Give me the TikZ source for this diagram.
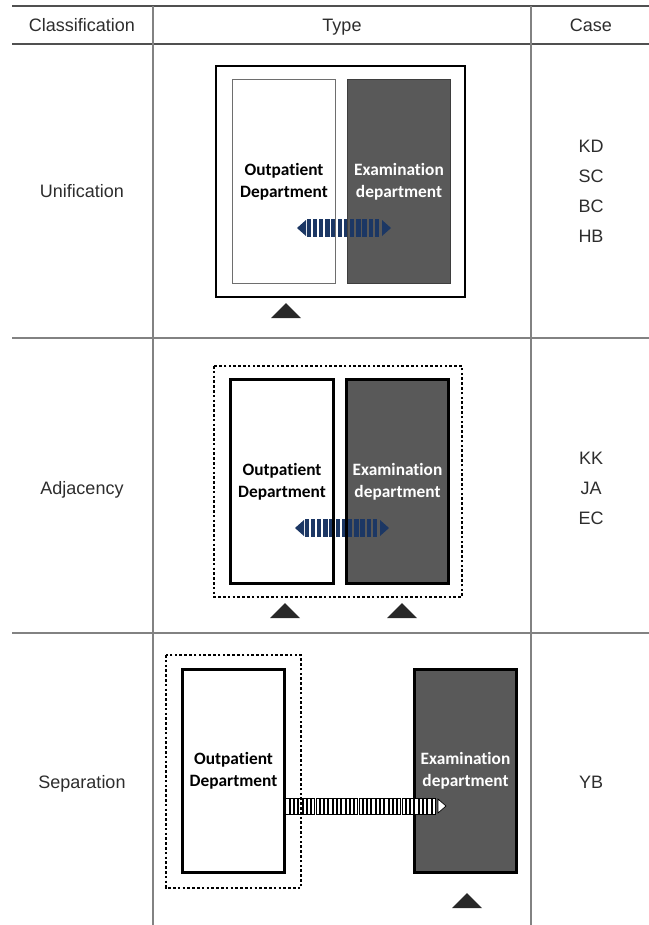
\documentclass[tikz,border=0pt]{standalone}
\usepackage{fontspec}
\setmainfont{Liberation Sans}
\newfontfamily\deptfont{Carlito}[Ligatures=NoCommon]
\usepackage{xcolor}
\usetikzlibrary{positioning, calc}
\definecolor{cRule}{RGB}{130,130,130}
\definecolor{cRuleDk}{RGB}{80,80,80}
\definecolor{cText}{RGB}{45,45,45}
\definecolor{cExam}{RGB}{89,89,89}
\definecolor{cFlow}{RGB}{28,55,100}
\definecolor{cMark}{RGB}{40,40,40}
\definecolor{cThin}{RGB}{110,110,110}

\begin{document}
\begin{tikzpicture}[x=0.75pt, y=-0.75pt]

% ------------------- styles -------------------
\tikzstyle{rule} = [draw=cRule, line width=0.8pt]
\tikzstyle{headrule} = [draw=cRuleDk, line width=1pt]
\tikzstyle{label} = [text=cText, align=center, inner sep=0, font=\fontsize{13.5}{22.5}\selectfont]
\tikzstyle{dept} = [rectangle, align=center, inner sep=0, minimum width=76.5pt, minimum height=152.25pt, font=\deptfont\bfseries\fontsize{13}{16.5}\selectfont]
\tikzstyle{opd} = [dept, fill=white]
\tikzstyle{exam} = [dept, fill=cExam, text=white]
\tikzstyle{thinborder} = [draw=cThin, line width=0.7pt]
\tikzstyle{thickborder} = [draw=black, line width=2.2pt]
\tikzstyle{zone} = [draw=black, line width=1.1pt, dash pattern=on 2pt off 1.6pt]
\tikzstyle{marker} = [fill=cMark]

\useasboundingbox (0,0) rectangle (649,925);

% ------------------- table -------------------
\draw[headrule] (12,6) -- (649,6);
\draw[headrule] (12,44) -- (649,44);
\draw[rule] (12,338) -- (649,338);
\draw[rule] (12,633) -- (649,633);
\draw[rule] (153,6) -- (153,925);
\draw[rule] (531,6) -- (531,925);

\node[label, anchor=base] (hClass) at (82,31) {Classification};
\node[label, anchor=base] (hType) at (342,31) {Type};
\node[label, anchor=base] (hCase) at (591,31) {Case};

\node[label, anchor=base] (cUni) at (82,197) {Unification};
\node[label, anchor=base] (cAdj) at (82,494) {Adjacency};
\node[label, anchor=base] (cSep) at (82,788) {Separation};

\node[label] (kUni) at (591,191.5) {KD\\SC\\BC\\HB};
\node[label] (kAdj) at (591,488) {KK\\JA\\EC};
\node[label] (kSep) at (591,782) {YB};

% ------------------- unification -------------------
\draw[line width=2.2pt] (216,66) rectangle (465,297);
\node[opd] (opdU) at (284,181.5) {Outpatient\\Department};
\node[exam] (examU) at (399,181.5) {Examination\\department};

\coordinate (flowU1) at (297,228);
\coordinate (flowU2) at (391,228);
\fill[cFlow] (flowU1) -- ++(9,-8) -- ++(0,16) -- cycle;
\foreach \i in {0,...,11} \fill[cFlow] ($(flowU1)+(9.5+\i*6.2,-9)$) rectangle ++(4.5,18);
\fill[cFlow] (flowU2) -- ++(-9,-8) -- ++(0,16) -- cycle;

\draw[thinborder] (opdU.north west) rectangle (opdU.south east);
\draw[cExam!70!black, line width=0.7pt] (examU.north west) rectangle (examU.south east);

\fill[marker] (286,303) -- (301,318) -- (271,318) -- cycle;

% ------------------- adjacency -------------------
\draw[zone] (214,366) rectangle (462,597);
\node[opd] (opdA) at (282,481.5) {Outpatient\\Department};
\node[exam] (examA) at (397.5,481.5) {Examination\\department};

\coordinate (flowA1) at (295,528);
\coordinate (flowA2) at (389,528);
\fill[cFlow] (flowA1) -- ++(9,-8) -- ++(0,16) -- cycle;
\foreach \i in {0,...,11} \fill[cFlow] ($(flowA1)+(9.5+\i*6.2,-9)$) rectangle ++(4.5,18);
\fill[cFlow] (flowA2) -- ++(-9,-8) -- ++(0,16) -- cycle;

\draw[thickborder] (opdA.north west) rectangle (opdA.south east);
\draw[thickborder] (examA.north west) rectangle (examA.south east);

\fill[marker] (285,603) -- (300,618) -- (270,618) -- cycle;
\fill[marker] (402,603) -- (417,618) -- (387,618) -- cycle;

% ------------------- separation -------------------
\node[opd] (opdS) at (233.5,771) {Outpatient\\Department};
\node[exam] (examS) at (465.5,771) {Examination\\department};
\draw[thickborder] (opdS.north west) rectangle (opdS.south east);
\draw[thickborder] (examS.north west) rectangle (examS.south east);

\coordinate (flowS1) at (opdS.east |- 0,806);
\coordinate (flowS2) at (446,806);
\foreach \i in {0,...,34} \draw[fill=white, line width=0.5pt] ($(flowS1)+(1+\i*4.3,-8)$) rectangle ++(3.2,16);
\draw[fill=white, line width=0.5pt] (flowS2) -- ++(-8,-7) -- ++(0,14) -- cycle;

\draw[zone] (166,655) rectangle (301,888);

\fill[marker] (467,893) -- (482,908) -- (452,908) -- cycle;

\end{tikzpicture}
\end{document}
